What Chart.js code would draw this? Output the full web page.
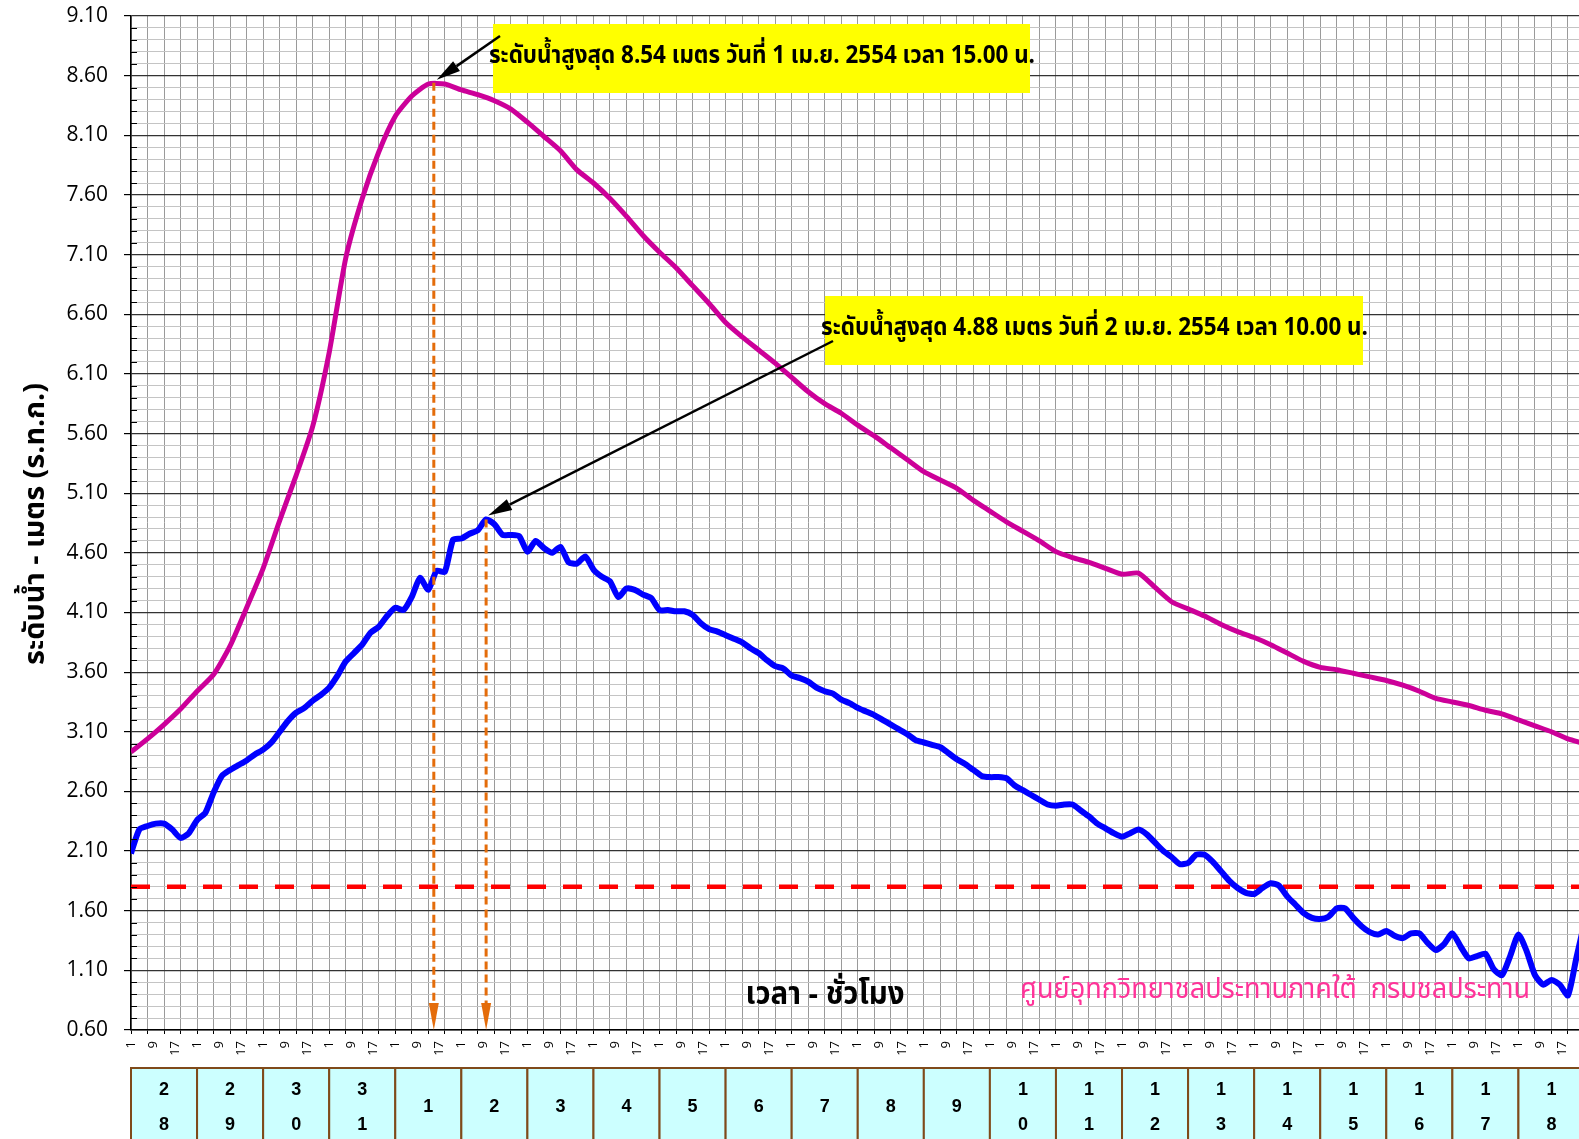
<!DOCTYPE html>
<html>
<head>
<meta charset="utf-8">
<script src="https://cdn.jsdelivr.net/npm/chart.js@4.4.1/dist/chart.umd.min.js"></script>
<style>
  html, body { margin: 0; padding: 0; background: #fff; overflow: hidden; }
  canvas { display: block; }
</style>
</head>
<body>
<canvas id="waterChart" width="1579" height="1139"></canvas>
<script>
// วันที่ (28 มี.ค. - 18 เม.ย. 2554)
const dayLabels = ['28', '29', '30', '31', '1', '2', '3', '4', '5', '6', '7', '8', '9',
                   '10', '11', '12', '13', '14', '15', '16', '17', '18'];

// ระดับน้ำ (ม. ร.ท.ก.) ทุก 6 ชม. เริ่ม 28 มี.ค. 01.00 น.
const magentaStep = 6;
const magentaLevels = [
  2.93, 3.04, 3.16, 3.29, 3.44, 3.58, 3.82, 4.14, 4.47, 4.87, 5.25, 5.66, 6.28, 7.07, 7.57, 7.96,
  8.26, 8.43, 8.53, 8.53, 8.48, 8.44, 8.39, 8.32, 8.21, 8.09, 7.97, 7.81, 7.70, 7.57, 7.42, 7.26,
  7.12, 6.99, 6.84, 6.69, 6.53, 6.41, 6.30, 6.19, 6.07, 5.95, 5.85, 5.77, 5.67, 5.58, 5.48, 5.38,
  5.28, 5.21, 5.14, 5.04, 4.95, 4.86, 4.78, 4.70, 4.61, 4.56, 4.52, 4.47, 4.42, 4.43, 4.31, 4.19,
  4.13, 4.07, 4.00, 3.94, 3.89, 3.83, 3.76, 3.69, 3.64, 3.62, 3.59, 3.56, 3.53, 3.49, 3.44, 3.38,
  3.35, 3.32, 3.28, 3.25, 3.20, 3.15, 3.10, 3.04, 3.00
];

// ระดับน้ำทุก 3 ชม.
const blueStep = 3;
const blueLevels = [
  2.08, 2.28, 2.31, 2.33, 2.33, 2.28, 2.21, 2.25, 2.36, 2.42, 2.59, 2.73, 2.78, 2.82, 2.86, 2.91,
  2.95, 3.01, 3.10, 3.19, 3.26, 3.30, 3.36, 3.41, 3.47, 3.57, 3.69, 3.76, 3.83, 3.93, 3.98, 4.07,
  4.14, 4.12, 4.23, 4.39, 4.29, 4.45, 4.44, 4.71, 4.72, 4.76, 4.79, 4.88, 4.84, 4.75, 4.75, 4.74,
  4.61, 4.70, 4.64, 4.60, 4.65, 4.52, 4.51, 4.57, 4.46, 4.40, 4.36, 4.23, 4.30, 4.29, 4.25, 4.22,
  4.12, 4.12, 4.11, 4.11, 4.08, 4.01, 3.96, 3.94, 3.91, 3.88, 3.85, 3.80, 3.76, 3.70, 3.65, 3.63,
  3.57, 3.55, 3.52, 3.47, 3.44, 3.42, 3.37, 3.34, 3.30, 3.27, 3.24, 3.20, 3.16, 3.12, 3.08, 3.03,
  3.01, 2.99, 2.97, 2.92, 2.87, 2.83, 2.78, 2.73, 2.72, 2.72, 2.71, 2.65, 2.61, 2.57, 2.53, 2.49,
  2.48, 2.49, 2.49, 2.44, 2.39, 2.33, 2.29, 2.25, 2.22, 2.25, 2.28, 2.24, 2.17, 2.10, 2.05, 1.99,
  2.00, 2.07, 2.07, 2.01, 1.93, 1.85, 1.79, 1.75, 1.74, 1.79, 1.83, 1.81, 1.72, 1.65, 1.58, 1.54,
  1.53, 1.55, 1.62, 1.62, 1.54, 1.47, 1.42, 1.40, 1.43, 1.39, 1.37, 1.41, 1.41, 1.33, 1.27, 1.32,
  1.41, 1.30, 1.20, 1.22, 1.24, 1.11, 1.06, 1.22, 1.40, 1.26, 1.06, 0.98, 1.02, 0.98, 0.89, 1.20,
  1.50
];

const alertLevel = 1.80;

// จุดสูงสุด (ชั่วโมงนับจาก 28 มี.ค. 01.00 น.)
const peakHours = [110, 129];
const peakLevels = [8.54, 4.88];
const peakTexts = [
  'ระดับน้ำสูงสุด 8.54 เมตร วันที่ 1 เม.ย. 2554 เวลา 15.00 น.',
  'ระดับน้ำสูงสุด 4.88 เมตร วันที่ 2 เม.ย. 2554 เวลา 10.00 น.'
];

const yMin = 0.6;
const yMax = 9.1;
const xMax = 526;

const thaiFont = "Tahoma, 'Noto Sans Thai', 'Noto Sans', 'DejaVu Sans', sans-serif";

const toPoints = (levels, step) => levels.map((v, i) => ({ x: i * step, y: v }));
const yIndex = v => Math.round((v - yMin) * 10);

const drawArrow = (ctx, x0, y0, x1, y1, color, width, headLen, headHalf, dash) => {
    const ang = Math.atan2(y1 - y0, x1 - x0);
    const bx = x1 - headLen * Math.cos(ang);
    const by = y1 - headLen * Math.sin(ang);
    ctx.save();
    ctx.strokeStyle = color;
    ctx.fillStyle = color;
    ctx.lineWidth = width;
    ctx.setLineDash(dash || []);
    ctx.beginPath();
    ctx.moveTo(x0, y0);
    ctx.lineTo(bx, by);
    ctx.stroke();
    ctx.setLineDash([]);
    ctx.beginPath();
    ctx.moveTo(x1, y1);
    ctx.lineTo(bx + headHalf * Math.sin(ang), by - headHalf * Math.cos(ang));
    ctx.lineTo(bx - headHalf * Math.sin(ang), by + headHalf * Math.cos(ang));
    ctx.closePath();
    ctx.fill();
    ctx.restore();
};

// ข้อความแบบตัวแคบ: ย่อแนวนอนให้ได้ความกว้างที่ต้องการ
const drawNarrow = (ctx, text, x, y, font, width, color, align, angle) => {
    ctx.save();
    ctx.font = font;
    ctx.fillStyle = color;
    ctx.textBaseline = 'middle';
    ctx.textAlign = 'left';
    const w = ctx.measureText(text).width;
    ctx.translate(x, y);
    if (angle) ctx.rotate(angle);
    ctx.scale(width / w, 1);
    const start = align === 'center' ? -w / 2 : 0;
    ctx.fillText(text, start, 0);
    ctx.restore();
};

const annotations = {
    id: 'annotations',
    afterDatasetsDraw(chart) {
        const ctx = chart.ctx;
        const xs = chart.scales.x;
        const ys = chart.scales.y;
        const area = chart.chartArea;

        // ขีดย่อยด้านในแกน y
        ctx.save();
        ctx.strokeStyle = '#000';
        ctx.lineWidth = 1;
        ys.ticks.forEach(t => {
            if (yIndex(t.value) % 5 !== 0) {
                const y = Math.round(ys.getPixelForValue(t.value)) + 0.5;
                ctx.beginPath();
                ctx.moveTo(area.left, y);
                ctx.lineTo(area.left + 6, y);
                ctx.stroke();
            }
        });
        ctx.restore();

        // ลูกศรเส้นประสีส้ม
        peakHours.forEach((h, i) => {
            const x = xs.getPixelForValue(h);
            drawArrow(ctx, x, ys.getPixelForValue(peakLevels[i]), x, ys.getPixelForValue(yMin),
                '#e46c0a', 3, 27, 5, [8, 5]);
        });

        // กล่องข้อความสีเหลือง
        const boxes = [
            { l: 493, t: 24, r: 1030, b: 93, tx: 489, tw: 546, ty: 58, ax: 500, ay: 36, dx: 3, dy: -3 },
            { l: 825, t: 296, r: 1363, b: 365, tx: 821, tw: 547, ty: 330, ax: 833, ay: 341, dx: 2, dy: -4 }
        ];
        boxes.forEach((bx, i) => {
            ctx.fillStyle = '#ffff00';
            ctx.fillRect(bx.l, bx.t, bx.r - bx.l, bx.b - bx.t);
            drawNarrow(ctx, peakTexts[i], bx.tx, bx.ty, 'bold 25px ' + thaiFont, bx.tw, '#000', 'left');
            drawArrow(ctx, bx.ax, bx.ay,
                xs.getPixelForValue(peakHours[i]) + bx.dx, ys.getPixelForValue(peakLevels[i]) + bx.dy,
                '#000', 2.5, 24, 6);
        });

        // ชื่อแกน
        drawNarrow(ctx, 'ระดับน้ำ - เมตร (ร.ท.ก.)', 38, 524, 'bold 29px ' + thaiFont, 282, '#000',
            'center', -Math.PI / 2);
        drawNarrow(ctx, 'เวลา - ชั่วโมง', 825, 998, 'bold 31px ' + thaiFont, 159, '#000', 'center');
        drawNarrow(ctx, 'ศูนย์อุทกวิทยาชลประทานภาคใต้  กรมชลประทาน', 1020, 992,
            '29px ' + thaiFont, 510, '#ff3399', 'left');
    },
    afterDraw(chart) {
        // แถบวันที่ด้านล่าง
        const ctx = chart.ctx;
        const xs = chart.scales.x;
        ctx.save();
        dayLabels.forEach((d, i) => {
            const x0 = xs.getPixelForValue(i * 24);
            const x1 = xs.getPixelForValue((i + 1) * 24);
            ctx.fillStyle = '#ccffff';
            ctx.fillRect(x0, 1068, x1 - x0, 90);
            ctx.strokeStyle = '#7f4a1a';
            ctx.lineWidth = 2;
            ctx.strokeRect(x0, 1068, x1 - x0, 90);
            ctx.fillStyle = '#000';
            ctx.font = "bold 18px 'Liberation Sans', Arial, sans-serif";
            ctx.textAlign = 'center';
            ctx.textBaseline = 'middle';
            const cx = (x0 + x1) / 2;
            if (d.length === 2) {
                ctx.fillText(d[0], cx, 1090);
                ctx.fillText(d[1], cx, 1125);
            } else {
                ctx.fillText(d, cx, 1107);
            }
        });
        ctx.restore();
    }
};

new Chart('waterChart', {
    type: 'line',
    data: {
        datasets: [
            {
                label: 'ระดับเตือนภัย',
                data: [{ x: 0, y: alertLevel }, { x: xMax, y: alertLevel }],
                borderColor: '#ff0000',
                borderWidth: 4.5,
                borderDash: [19, 17],
                pointRadius: 0,
                order: 3
            },
            {
                label: 'สถานีท้ายน้ำ',
                data: toPoints(blueLevels, blueStep),
                borderColor: '#0000ff',
                borderWidth: 6,
                pointRadius: 0,
                tension: 0.2,
                order: 2
            },
            {
                label: 'สถานีต้นน้ำ',
                data: toPoints(magentaLevels, magentaStep),
                borderColor: '#cc0099',
                borderWidth: 5,
                pointRadius: 0,
                tension: 0.2,
                order: 1
            }
        ]
    },
    options: {
        responsive: false,
        animation: false,
        layout: { padding: { top: 16, left: 0, right: 0, bottom: 0 } },
        plugins: {
            legend: { display: false },
            tooltip: { enabled: false }
        },
        scales: {
            x: {
                type: 'linear',
                min: 0,
                max: xMax,
                afterBuildTicks: s => {
                    s.ticks = [];
                    for (let h = 0; h <= xMax; h += 2) s.ticks.push({ value: h });
                },
                afterFit: s => {
                    s.height = 109;
                    s.paddingLeft = 0;
                    s.paddingRight = 0;
                },
                border: { color: '#000', width: 1.5 },
                grid: {
                    color: c => (c.tick && c.tick.value % 6 === 0) ? '#9a9a9a' : 'rgba(0,0,0,0)',
                    tickColor: c => (c.tick && c.tick.value % 6 === 0) ? '#000' : 'rgba(0,0,0,0)',
                    tickLength: 4,
                    lineWidth: 1
                },
                ticks: {
                    autoSkip: false,
                    minRotation: 90,
                    maxRotation: 90,
                    padding: 7,
                    color: '#000',
                    font: { family: "'Open Sans'", size: 13 },
                    callback: v => (v % 8 === 0) ? String(v % 24 + 1) : ''
                }
            },
            y: {
                min: yMin,
                max: yMax,
                afterBuildTicks: s => {
                    s.ticks = [];
                    for (let i = 0; i <= 85; i++) s.ticks.push({ value: (6 + i) / 10 });
                },
                afterFit: s => {
                    s.width = 131;
                    s.paddingTop = 0;
                    s.paddingBottom = 0;
                },
                border: { color: '#000', width: 1.5 },
                grid: {
                    color: c => (c.tick && yIndex(c.tick.value) % 5 === 0) ? '#333' : '#c4c4c4',
                    tickColor: c => (c.tick && yIndex(c.tick.value) % 5 === 0) ? '#000' : 'rgba(0,0,0,0)',
                    tickLength: 7,
                    lineWidth: c => (c.tick && yIndex(c.tick.value) % 5 === 0) ? 1.2 : 1
                },
                ticks: {
                    autoSkip: false,
                    padding: 16,
                    color: '#000',
                    font: { family: "'Open Sans'", size: 21 },
                    callback: v => (yIndex(v) % 5 === 0) ? v.toFixed(2) : ''
                }
            }
        }
    },
    plugins: [annotations]
});
</script>
</body>
</html>
